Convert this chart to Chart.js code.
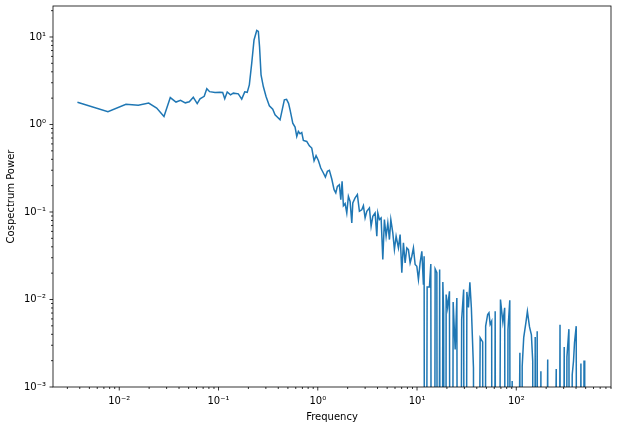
<!DOCTYPE html>
<html>
<head>
<meta charset="utf-8">
<script src="https://cdn.jsdelivr.net/npm/chart.js@4.4.1/dist/chart.umd.min.js"></script>
<style>
  html, body { margin: 0; padding: 0; background: #fff; }
</style>
</head>
<body>
<canvas id="myChart" width="618" height="429"></canvas>
<script>
// frequency (Hz) and cospectrum power
// power 0 = non-positive value, clipped off the log axis like matplotlib does
const freq = [
  0.00379, 0.00769, 0.01168, 0.01554, 0.01979, 0.02382, 0.02822, 0.03267, 0.03729, 0.0414,
  0.04627, 0.05077, 0.05572, 0.0610, 0.0651, 0.07176, 0.07623, 0.08134, 0.0922, 0.1035,
  0.1102, 0.1155, 0.1224, 0.1321, 0.1410, 0.1583, 0.1713, 0.1837, 0.1947, 0.2044,
  0.2161, 0.2279, 0.2427, 0.2519, 0.2590, 0.2682, 0.2828, 0.3011, 0.3251, 0.3518,
  0.3711, 0.3953, 0.4169, 0.4397, 0.4606, 0.4848, 0.5077, 0.5258, 0.5470, 0.5598,
  0.5905, 0.6142, 0.6374, 0.6631, 0.6898, 0.7158, 0.7744, 0.8228, 0.8699, 0.9178,
  0.9614, 1.014, 1.072, 1.139, 1.193, 1.250, 1.309, 1.384, 1.460, 1.519,
  1.576, 1.651, 1.706, 1.758, 1.812, 1.885, 1.960, 2.035, 2.117, 2.202,
  2.254, 2.377, 2.506, 2.627, 2.776, 2.882, 2.998, 3.119, 3.313, 3.446,
  3.585, 3.782, 3.934, 4.026, 4.178, 4.346, 4.521, 4.692, 4.881, 5.077,
  5.272, 5.446, 5.702, 5.918, 6.156, 6.494, 6.754, 7.027, 7.293, 7.586,
  7.89, 8.19, 8.52, 8.86, 9.20, 9.57, 9.95, 10.33, 10.74, 11.18,
  11.60, 11.79, 12.07, 12.64, 13.34, 13.77, 14.19, 14.70, 15.22, 15.84,
  16.32, 16.90, 17.50, 18.20, 18.54, 19.29, 19.65, 20.35, 21.22, 22.07, 23.12,
  24.22, 25.19, 26.27, 28.16, 29.50, 30.54, 31.77, 32.97, 34.07, 35.27,
  37.03, 38.52, 43.26, 45.84, 47.46, 49.14, 51.47, 53.05, 54.55, 56.49,
  57.82, 61.28, 63.45, 69.29, 73.26, 76.39, 79.10, 82.47, 86.0, 88.8,
  90.9, 93.0, 108.7, 112.0, 114.7, 118.8, 125.3, 129.4, 135.9, 142.0,
  146.4, 149.8, 155.1, 158.7, 162.4, 168.2, 177.0, 181.6, 207.3, 212.2,
  252.6, 258.5, 275.8, 283.6, 304.0, 312.6, 323.7, 339.0, 351.8, 366.0,
  377.2, 386.1, 401.6, 413.9, 447.9, 461.6, 481.3, 489.2
];
const power = [
  1.792, 1.396, 1.700, 1.656, 1.755, 1.543, 1.234, 2.032, 1.806, 1.889,
  1.768, 1.816, 2.043, 1.736, 1.965, 2.098, 2.568, 2.373, 2.318, 2.330,
  2.318, 1.965, 2.349, 2.182, 2.282, 2.240, 1.949, 2.361, 2.330, 2.837,
  5.018, 9.25, 11.88, 11.57, 7.76, 3.69, 2.714, 2.087, 1.635, 1.498,
  1.290, 1.202, 1.131, 1.498, 1.913, 1.939, 1.745, 1.471, 1.183, 1.037,
  0.934, 0.730, 0.832, 0.783, 0.810, 0.657, 0.640, 0.571, 0.538, 0.385,
  0.440, 0.388, 0.318, 0.279, 0.251, 0.291, 0.299, 0.238, 0.180, 0.165,
  0.196, 0.205, 0.138, 0.224, 0.118, 0.125, 0.0975, 0.151, 0.132, 0.0750,
  0.127, 0.145, 0.158, 0.102, 0.106, 0.118, 0.0855, 0.102, 0.111, 0.0686,
  0.0892, 0.0975, 0.0528, 0.0975, 0.0818, 0.0855, 0.0286, 0.0818, 0.0528, 0.0750,
  0.0484, 0.0818, 0.0577, 0.0372, 0.0528, 0.0389, 0.0552, 0.0202, 0.0444, 0.0262,
  0.0389, 0.0372, 0.0262, 0.0312, 0.0389, 0.0251, 0.0240, 0.0169, 0.0262, 0.0356,
  0.0148, 0.0312, 0, 0.0139, 0.0140, 0.0255, 0, 0, 0.0223, 0.0202,
  0, 0.0220, 0, 0.0158, 0.00711, 0, 0.0114, 0.0081, 0.0124, 0, 0.00936,
  0.00269, 0.0104, 0, 0.00591, 0.0130, 0, 0.0122, 0.0081, 0.0157, 0.00804,
  0.00166, 0, 0.00366, 0.00327, 0, 0.00496, 0.00674, 0.00705, 0.00519, 0.00566,
  0, 0.00735, 0, 0.0100, 0.00549, 0.00804, 0, 0.00455, 0.00979, 0,
  0.00117, 0, 0.00247, 0, 0.00173, 0.00366, 0.00554, 0.00730, 0.00486, 0.00394,
  0.00198, 0, 0.00372, 0, 0.00435, 0, 0.00151, 0, 0.00206, 0,
  0.00161, 0, 0.00516, 0, 0.00287, 0, 0.00221, 0.00458, 0, 0.00138,
  0.00198, 0.00323, 0.00496, 0, 0.00185, 0, 0.00201, 0
];

const xTicks = [0.01, 0.1, 1, 10, 100];
const xTickLabels = ['10\u207B\u00B2', '10\u207B\u00B9', '10\u2070', '10\u00B9', '10\u00B2'];
const yTicks = [0.001, 0.01, 0.1, 1, 10];
const yTickLabels = ['10\u207B\u00B3', '10\u207B\u00B2', '10\u207B\u00B9', '10\u2070', '10\u00B9'];

const CLIP = 1e-12; // where non-positive values get pushed (far below the axis)
const FONT = { family: 'DejaVu Sans', size: 10 };

function logTicks(scale) {
  const out = [];
  const lo = Math.floor(Math.log10(scale.min)), hi = Math.ceil(Math.log10(scale.max));
  for (let d = lo; d <= hi; d++) {
    for (let k = 1; k <= 9; k++) {
      const v = k * Math.pow(10, d);
      if (v < scale.min || v > scale.max) continue;
      out.push({ value: v, major: k === 1 });
    }
  }
  scale.ticks = out;
}

function labelFor(majors, labels) {
  return function (value) {
    for (let i = 0; i < majors.length; i++) {
      if (Math.abs(value / majors[i] - 1) < 1e-6) return labels[i];
    }
    return '';
  };
}

// no extra label overhang padding, the plot box is fixed by layout padding
function noOverhang(s) {
  s.paddingTop = 0; s.paddingBottom = 0;
  s.paddingLeft = 0; s.paddingRight = 0;
}

// matplotlib style frame + outward tick marks
const frameTicks = {
  id: 'frameTicks',
  afterDraw(chart) {
    const ctx = chart.ctx, a = chart.chartArea;
    const xs = chart.scales.x, ys = chart.scales.y;
    ctx.save();
    ctx.strokeStyle = '#000';
    ctx.lineWidth = 0.8;
    ctx.strokeRect(a.left, a.top, a.right - a.left, a.bottom - a.top);
    ctx.beginPath();
    xs.ticks.forEach(t => {
      const p = xs.getPixelForValue(t.value);
      ctx.moveTo(p, a.bottom);
      ctx.lineTo(p, a.bottom + (t.major ? 3.5 : 2));
    });
    ys.ticks.forEach(t => {
      const p = ys.getPixelForValue(t.value);
      ctx.moveTo(a.left, p);
      ctx.lineTo(a.left - (t.major ? 3.5 : 2), p);
    });
    ctx.stroke();
    ctx.restore();
  }
};

const ctx = document.getElementById('myChart').getContext('2d');
new Chart(ctx, {
  type: 'line',
  data: {
    datasets: [{
      label: 'Cospectrum',
      data: freq.map((f, i) => ({ x: f, y: power[i] > 0 ? power[i] : CLIP })),
      borderColor: '#1f77b4',
      borderWidth: 1.5,
      pointRadius: 0,
      tension: 0,
      fill: false
    }]
  },
  options: {
    responsive: false,
    devicePixelRatio: 1,
    animation: false,
    layout: { padding: { left: 0, top: 6, right: 7, bottom: 0 } },
    plugins: { legend: { display: false }, tooltip: { enabled: false } },
    scales: {
      x: {
        type: 'logarithmic',
        min: 0.00215,
        max: 900,
        bounds: 'data',
        afterBuildTicks: logTicks,
        afterFit: s => { s.height = 42; noOverhang(s); },
        grid: { display: false, drawTicks: false },
        border: { display: false },
        ticks: {
          autoSkip: false, maxRotation: 0, padding: 8,
          color: '#000', font: FONT,
          callback: labelFor(xTicks, xTickLabels)
        },
        title: {
          display: true, text: 'Frequency', color: '#000', font: FONT,
          padding: { top: 0, bottom: 6 }
        }
      },
      y: {
        type: 'logarithmic',
        min: 0.001,
        max: 22.6,
        bounds: 'data',
        afterBuildTicks: logTicks,
        afterFit: s => { s.width = 53; noOverhang(s); },
        grid: { display: false, drawTicks: false },
        border: { display: false },
        ticks: {
          autoSkip: false, padding: 7,
          color: '#000', font: FONT,
          callback: labelFor(yTicks, yTickLabels)
        },
        title: {
          display: true, text: 'Cospectrum Power', color: '#000', font: FONT,
          padding: { top: 5, bottom: 0 }
        }
      }
    }
  },
  plugins: [frameTicks]
});
</script>
</body>
</html>
